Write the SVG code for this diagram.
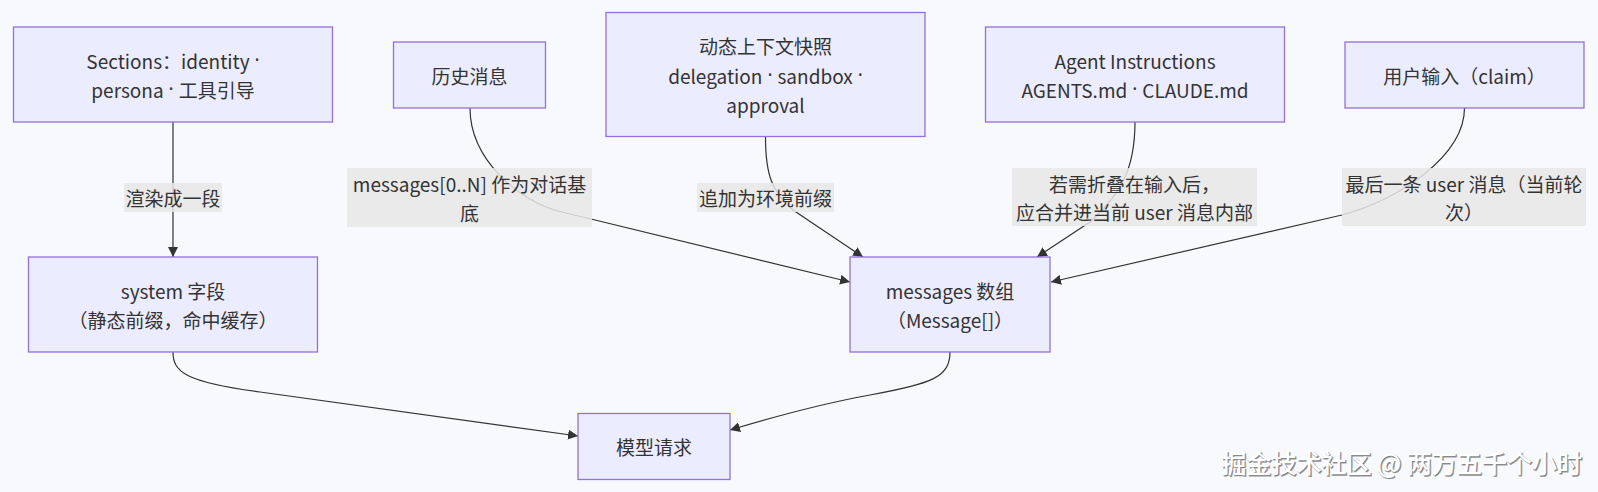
<svg xmlns="http://www.w3.org/2000/svg" width="1598" height="492" viewBox="0 0 1598 492">
<defs>
<marker id="arrow" viewBox="0 0 10 10" refX="10" refY="5" markerUnits="userSpaceOnUse" markerWidth="10" markerHeight="10" orient="auto">
<path d="M0,0 L10,5 L0,10 z" fill="#333333"/>
</marker>
<style>
.node rect{fill:#ECECFF;stroke:#9370DB;stroke-width:1.3;}
.node text,.lbl text{font-family:"Noto Sans CJK SC","Noto Sans",sans-serif;font-size:19px;fill:#333333;text-anchor:middle;dominant-baseline:central;}
.dot{font-family:"Noto Sans",sans-serif;}
.edge{fill:none;stroke:#333333;stroke-width:1.2;marker-end:url(#arrow);}
.lbl rect{fill:#e8e8e8;fill-opacity:0.85;}
.wm{font-family:"Noto Sans CJK SC",sans-serif;font-size:25px;font-weight:500;text-anchor:end;dominant-baseline:central;}
</style>
</defs>
<rect x="0" y="0" width="1598" height="492" fill="#f8f9fc"/>

<g id="connectors">
<path class="edge" d="M173,122 L173,257"/>
<path class="edge" d="M470,108 C470,160 520,201.8 560,211.5 L850,282"/>
<path class="edge" d="M765.5,137 C765.5,175 772,192 793,210 L863,257"/>
<path class="edge" d="M1135,122 C1135,170 1120,195 1090,222 L1037,257"/>
<path class="edge" d="M1464.5,108 C1464.5,155 1400,200 1342,215 L1051,282"/>
<path class="edge" d="M173,352 C173,372 185,382 260,392 L578,436"/>
<path class="edge" d="M950,352 C950,378 930,384 870,395 C820,404 780,415 730,430"/>
</g>

<g id="edge-labels">
<g class="lbl"><rect x="124" y="183" width="98" height="29"/><text x="173" y="197">渲染成一段</text></g>
<g class="lbl"><rect x="347" y="168" width="245" height="59"/><text x="469.5" y="183">messages[0..N] 作为对话基</text><text x="469.5" y="212">底</text></g>
<g class="lbl"><rect x="697" y="183" width="137" height="29"/><text x="765.5" y="197">追加为环境前缀</text></g>
<g class="lbl"><rect x="1012" y="168" width="245" height="58"/><text x="1134.5" y="183">若需折叠在输入后，</text><text x="1134.5" y="211.5">应合并进当前 user 消息内部</text></g>
<g class="lbl"><rect x="1342" y="168" width="244" height="58"/><text x="1464" y="183">最后一条 user 消息（当前轮</text><text x="1464" y="211.5">次）</text></g>
</g>

<g id="node-sections" class="node"><rect x="13.5" y="27" width="319" height="95"/><text x="173" y="60">Sections：identity<tspan class="dot"> ·</tspan></text><text x="173" y="89">persona<tspan class="dot"> · </tspan>工具引导</text></g>
<g id="node-history" class="node"><rect x="393.5" y="42" width="152" height="66"/><text x="469.5" y="75">历史消息</text></g>
<g id="node-dynamic" class="node"><rect x="606" y="12.5" width="319" height="124"/><text x="765.5" y="45">动态上下文快照</text><text x="765.5" y="75">delegation<tspan class="dot"> · </tspan>sandbox<tspan class="dot"> ·</tspan></text><text x="765.5" y="104">approval</text></g>
<g id="node-agent" class="node"><rect x="985.5" y="27" width="299" height="95"/><text x="1135" y="60">Agent Instructions</text><text x="1135" y="89">AGENTS.md<tspan class="dot"> · </tspan>CLAUDE.md</text></g>
<g id="node-user" class="node"><rect x="1345" y="42" width="239" height="66"/><text x="1464.5" y="75">用户输入（claim）</text></g>
<g id="node-system" class="node"><rect x="28.5" y="257" width="289" height="95"/><text x="173" y="290">system 字段</text><text x="173" y="319">（静态前缀，命中缓存）</text></g>
<g id="node-messages" class="node"><rect x="850" y="257" width="200" height="95"/><text x="950" y="290">messages 数组</text><text x="950" y="319">（Message[]）</text></g>
<g id="node-model" class="node"><rect x="578" y="413.5" width="152" height="66"/><text x="654" y="446">模型请求</text></g>

<g id="watermark">
<text class="wm" x="1583" y="463" fill="#777777" stroke="#999999" stroke-width="0.8">掘金技术社区 @ 两万五千个小时</text>
<text class="wm" x="1582" y="461.8" fill="#ffffff">掘金技术社区 @ 两万五千个小时</text>
</g>
</svg>
